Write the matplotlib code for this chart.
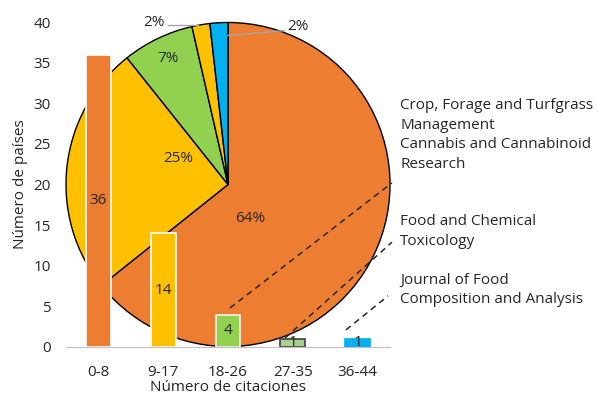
import numpy as np
import matplotlib
matplotlib.use('Agg')
import matplotlib.pyplot as plt

plt.rcParams['font.family'] = ['Open Sans', 'DejaVu Sans']

rangos = ['0-8', '9-17', '18-26', '27-35', '36-44']
paises = [36, 14, 4, 1, 1]
colores = ['#ED7D31', '#FFC000', '#92D050', '#A9D18E', '#00B0F0']
bordes = ['white', 'white', '#F2F2F2', '#3F3F3F', '#00B0F0']
pie_colores = ['#ED7D31', '#FFC000', '#92D050', '#FFC000', '#00B0F0']
revistas = ['Crop, Forage and Turfgrass\nManagement\nCannabis and Cannabinoid\nResearch',
            'Food and Chemical\nToxicology',
            'Journal of Food\nComposition and Analysis']

txt = '#262626'
fs = 11
fig = plt.figure(figsize=(5.98, 3.97), dpi=100)
pos = [66 / 598, 50 / 397, 324 / 598, 325 / 397]

# pie behind the bars
ax_pie = fig.add_axes(pos, zorder=0)
ax_pie.pie(paises, colors=pie_colores, startangle=90, counterclock=False,
           wedgeprops=dict(edgecolor='black', linewidth=1.0))
ax_pie.set_xlim(-1, 1)
ax_pie.set_ylim(-1, 1)
ax_pie.set_aspect('equal')
ax_pie.axis('off')

total = sum(paises)
pct = [f'{round(100 * v / total)}%' for v in paises]
pct_pos = [(0.14, -0.21), (-0.31, 0.16), (-0.37, 0.78), (-0.46, 1.0), (0.43, 0.975)]
for p, (px, py) in zip(pct, pct_pos):
    ax_pie.text(px, py, p, ha='center', va='center', fontsize=fs, color=txt)
ax_pie.plot([-0.37, -0.185], [0.985, 0.985], color='#A6A6A6', lw=1, clip_on=False)
ax_pie.plot([0.0, 0.35], [0.92, 0.95], color='#A6A6A6', lw=1, clip_on=False)

# bar chart on top
ax = fig.add_axes(pos, zorder=1)
ax.patch.set_visible(False)
x = np.arange(len(rangos))
bars = ax.bar(x, paises, width=0.38, color=colores, edgecolor=bordes, linewidth=1.2)
ax.bar_label(bars, label_type='center', fontsize=fs, color=txt)
ax.set_xlim(-0.5, 4.5)
ax.set_ylim(0, 40)
ax.set_yticks(range(0, 41, 5))
ax.set_xticks(x)
ax.set_xticklabels(rangos)
ax.tick_params(length=0, labelsize=fs, colors=txt)
ax.tick_params(axis='x', pad=13)
ax.tick_params(axis='y', pad=11)
for s in ['top', 'right', 'left']:
    ax.spines[s].set_visible(False)
ax.spines['bottom'].set_color('#BFBFBF')
ax.set_ylabel('Número de países', fontsize=fs, color=txt, labelpad=4)
ax.set_xlabel('Número de citaciones', fontsize=fs, color=txt, labelpad=0)

# leader lines to the journal names
guias = [((2.03, 4.8), (4.53, 20.2)), ((2.88, 1.1), (4.53, 12.9)), ((3.82, 2.1), (4.47, 6.3))]
for (x0, y0), (x1, y1) in guias:
    ax.plot([x0, x1], [y0, y1], color='#262626', lw=1.1, ls=(0, (4, 3)), clip_on=False)

for r, fy in zip(revistas, [1 - 135 / 397, 1 - 231.5 / 397, 1 - 290 / 397]):
    fig.text(400 / 598, fy, r, ha='left', va='center', fontsize=fs, color=txt, linespacing=1.45)

fig.savefig('out.png', dpi=100)
